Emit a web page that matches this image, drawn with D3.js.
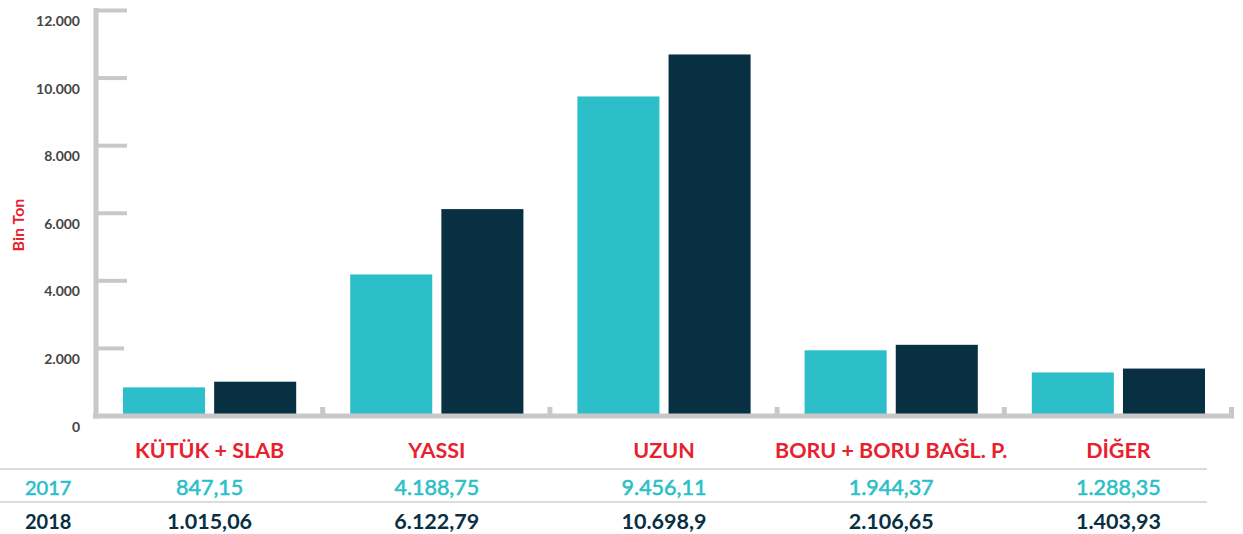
<!DOCTYPE html>
<html>
<head>
<meta charset="utf-8">
<script src="https://cdn.jsdelivr.net/npm/d3@7"></script>
<style>
  body { margin: 0; background: #fff; }
  text { font-family: Lato, "Open Sans", sans-serif; }
</style>
</head>
<body>
<svg id="chart" width="1243" height="534"></svg>
<script>
const categories = ['KÜTÜK + SLAB', 'YASSI', 'UZUN', 'BORU + BORU BAĞL. P.', 'DİĞER'];
const years = ['2017', '2018'];
const values2017 = [847.15, 4188.75, 9456.11, 1944.37, 1288.35];
const values2018 = [1015.06, 6122.79, 10698.9, 2106.65, 1403.93];
const labels2017 = ['847,15', '4.188,75', '9.456,11', '1.944,37', '1.288,35'];
const labels2018 = ['1.015,06', '6.122,79', '10.698,9', '2.106,65', '1.403,93'];
const yTicks = [0, 2000, 4000, 6000, 8000, 10000, 12000];

const colors = { '2017': '#2cbfc9', '2018': '#082f42' };
const axisGrey = '#c8c8c8';

const svg = d3.select('#chart');
const plotLeft = 96, plotRight = 1232, plotTop = 10.5, plotBottom = 416;

const x = d3.scaleBand().domain(categories).range([plotLeft, plotRight]);
const x1 = d3.scaleBand().domain(years).range([27, x.bandwidth() - 27]).paddingInner(0.1);
const y = d3.scaleLinear().domain([0, 12000]).range([plotBottom, plotTop]);

const fmt = d3.formatLocale({ decimal: ',', thousands: '.', grouping: [3], currency: ['', ''] }).format(',');

// bars
const rows = categories.map((c, i) => ({ cat: c, vals: [values2017[i], values2018[i]] }));
const g = svg.selectAll('g.grp').data(rows).enter().append('g')
  .attr('class', 'grp')
  .attr('transform', d => 'translate(' + x(d.cat) + ',0)');
g.selectAll('rect').data(d => d.vals.map((v, k) => ({ year: years[k], v: v }))).enter()
  .append('rect')
  .attr('x', d => x1(d.year))
  .attr('width', x1.bandwidth())
  .attr('y', d => y(d.v))
  .attr('height', d => y(0) - y(d.v))
  .attr('fill', d => colors[d.year]);

// y axis ticks
svg.selectAll('line.ytick').data(yTicks.filter(t => t > 0)).enter().append('line')
  .attr('x1', plotLeft).attr('x2', d => d === 2000 ? 124 : 127)
  .attr('y1', d => y(d)).attr('y2', d => y(d))
  .attr('stroke', axisGrey).attr('stroke-width', 4);

svg.selectAll('text.ylab').data(yTicks).enter().append('text')
  .attr('x', 80).attr('y', d => y(d) + 10)
  .attr('text-anchor', 'end').attr('dominant-baseline', 'central')
  .attr('font-size', 14).attr('font-weight', 700).attr('fill', '#444')
  .text(d => fmt(d));

// axis lines
svg.append('line').attr('x1', plotLeft).attr('x2', plotLeft).attr('y1', 8).attr('y2', plotBottom + 2.5)
  .attr('stroke', axisGrey).attr('stroke-width', 5);
svg.append('line').attr('x1', plotLeft - 3).attr('x2', plotRight + 2).attr('y1', plotBottom).attr('y2', plotBottom)
  .attr('stroke', axisGrey).attr('stroke-width', 5);

// group separators on x axis
svg.selectAll('line.sep').data(categories.slice(1).map(c => x(c)).concat([plotRight])).enter().append('line')
  .attr('x1', d => d - 0.5).attr('x2', d => d - 0.5)
  .attr('y1', plotBottom - 9).attr('y2', plotBottom)
  .attr('stroke', axisGrey).attr('stroke-width', 5);

// y axis title
svg.append('text')
  .attr('transform', 'translate(17.5,225) rotate(-90)')
  .attr('text-anchor', 'middle').attr('dominant-baseline', 'central')
  .attr('font-size', 16).attr('font-weight', 700).attr('fill', '#e8212e')
  .text('Bin Ton');

// category labels
svg.selectAll('text.cat').data(categories).enter().append('text')
  .attr('x', d => x(d) + x.bandwidth() / 2).attr('y', 450)
  .attr('text-anchor', 'middle').attr('dominant-baseline', 'central')
  .attr('font-size', 21.5).attr('font-weight', 700).attr('fill', '#e8212e')
  .text(d => d);

// table
[469, 502].forEach(yy => {
  svg.append('line').attr('x1', 0).attr('x2', 1207).attr('y1', yy).attr('y2', yy)
    .attr('stroke', '#d0d0d0').attr('stroke-width', 1.5);
});

const tableRows = [
  { year: '2017', labels: labels2017, cy: 487, weight: 400, stroke: 0.6 },
  { year: '2018', labels: labels2018, cy: 521, weight: 700, stroke: 0 }
];
tableRows.forEach(r => {
  svg.append('text').attr('x', 25).attr('y', r.cy)
    .attr('dominant-baseline', 'central')
    .attr('font-size', 20).attr('font-weight', r.weight).attr('fill', colors[r.year])
    .attr('stroke', colors[r.year]).attr('stroke-width', r.stroke)
    .text(r.year);
  svg.selectAll(null).data(r.labels).enter().append('text')
    .attr('x', (d, i) => x(categories[i]) + x.bandwidth() / 2).attr('y', r.cy)
    .attr('text-anchor', 'middle').attr('dominant-baseline', 'central')
    .attr('font-size', 21.5).attr('font-weight', r.weight).attr('fill', colors[r.year])
    .attr('stroke', colors[r.year]).attr('stroke-width', r.stroke)
    .text(d => d);
});
</script>
</body>
</html>
